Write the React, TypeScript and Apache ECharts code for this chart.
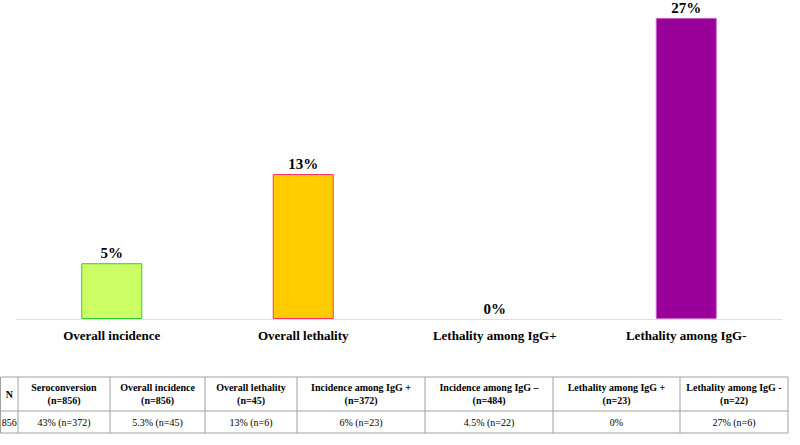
import React, { useEffect, useRef } from "react";
import * as echarts from "echarts";

const categories = ["Overall incidence", "Overall lethality", "Lethality among IgG+", "Lethality among IgG-"];
const values = [5, 13, 0, 27];
const barFills = ["#ccff66", "#ffcc00", "#ff99cc", "#990099"];
const barBorders = ["#33cc33", "#ff3366", "#ff3399", "#cc66cc"];

const tableHeaders = [
  ["N"],
  ["Seroconversion", "(n=856)"],
  ["Overall incidence", "(n=856)"],
  ["Overall lethality", "(n=45)"],
  ["Incidence among IgG +", "(n=372)"],
  ["Incidence among IgG \u2013", "(n=484)"],
  ["Lethality among IgG +", "(n=23)"],
  ["Lethality among IgG -", "(n=22)"],
];
const tableRow = ["856", "43% (n=372)", "5.3% (n=45)", "13% (n=6)", "6% (n=23)", "4.5% (n=22)", "0%", "27% (n=6)"];
const colEdges = [0.5, 18, 110, 205, 297, 425, 553, 680, 788];
const rowEdges = [377, 411, 433];

export default function App() {
  const ref = useRef<HTMLDivElement>(null);
  useEffect(() => {
    if (!ref.current) return;
    const chart = echarts.init(ref.current, null, { renderer: "svg" });
    const font = "serif";
    const graphics: any[] = [];
    const lineStyle = { stroke: "#a0a0a0", lineWidth: 1 };
    colEdges.forEach((x) => {
      graphics.push({ type: "line", shape: { x1: x, y1: rowEdges[0], x2: x, y2: rowEdges[2] }, style: lineStyle });
    });
    rowEdges.forEach((y) => {
      graphics.push({ type: "line", shape: { x1: colEdges[0], y1: y, x2: colEdges[colEdges.length - 1], y2: y }, style: lineStyle });
    });
    tableHeaders.forEach((lines, i) => {
      const cx = (colEdges[i] + colEdges[i + 1]) / 2;
      graphics.push({
        type: "text",
        x: cx,
        y: (rowEdges[0] + rowEdges[1]) / 2,
        style: {
          text: lines.join("\n"),
          fontFamily: font,
          fontWeight: "bold",
          fontSize: 10,
          lineHeight: 13,
          fill: "#000",
          align: "center",
          verticalAlign: "middle",
        },
      });
    });
    tableRow.forEach((t, i) => {
      const cx = (colEdges[i] + colEdges[i + 1]) / 2;
      graphics.push({
        type: "text",
        x: cx,
        y: (rowEdges[1] + rowEdges[2]) / 2,
        style: {
          text: t,
          fontFamily: font,
          fontSize: 10,
          fill: "#000",
          align: "center",
          verticalAlign: "middle",
        },
      });
    });

    chart.setOption({
      animation: false,
      grid: { left: 16, right: 18, top: 0, bottom: 126 },
      xAxis: {
        type: "category",
        data: categories,
        axisLine: { show: true, lineStyle: { color: "#e0e0e0", width: 1 } },
        axisTick: { show: false },
        axisLabel: {
          fontFamily: font,
          fontWeight: "bold",
          fontSize: 13,
          color: "#000",
          margin: 10,
          interval: 0,
        },
      },
      yAxis: {
        type: "value",
        min: 0,
        max: 28.6,
        show: false,
        splitLine: { show: false },
      },
      series: [
        {
          type: "bar",
          barWidth: 61,
          data: values.map((v, i) => ({
            value: v,
            itemStyle: { color: barFills[i], borderColor: barBorders[i], borderWidth: v > 0 ? 1 : 0 },
          })),
          label: {
            show: true,
            position: "top",
            distance: 3,
            lineHeight: 14,
            formatter: "{c}%",
            fontFamily: font,
            fontWeight: "bold",
            fontSize: 15,
            color: "#000",
          },
        },
      ],
      graphic: graphics,
    });
    return () => chart.dispose();
  }, []);
  return <div ref={ref} style={{ position: "fixed", left: 0, top: 0, width: 800, height: 445, background: "#fff" }} />;
}
